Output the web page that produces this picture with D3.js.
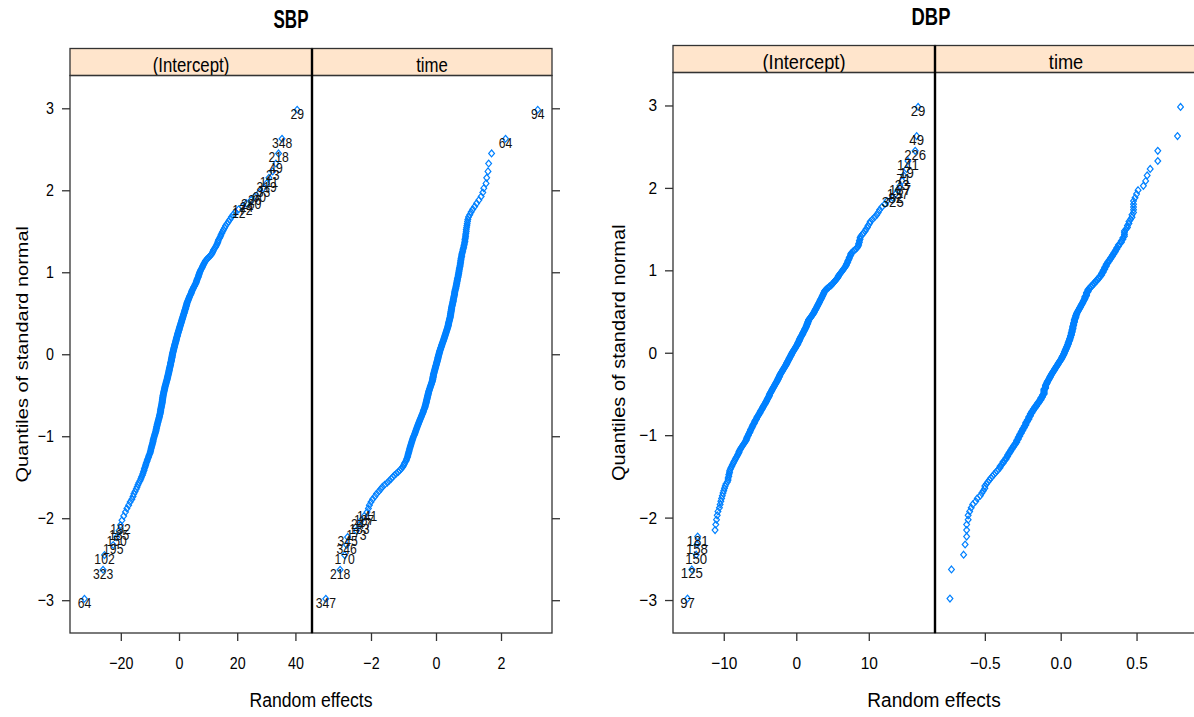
<!DOCTYPE html>
<html>
<head>
<meta charset="utf-8">
<script src="https://cdn.jsdelivr.net/npm/d3@7"></script>
<style>
  body { margin: 0; background: #fff; }
  svg { display: block; }
  text { font-family: "Liberation Sans", Arial, Helvetica, sans-serif; }
</style>
</head>
<body>
<svg id="chart" width="1194" height="717"></svg>
<script>
// Estimated random effects (sorted), one array per model term.
const sbpIntercept = [
-32.5,-26.1,-25.6,-22.6,-21.4,-20.6,-20.1,-19.6,-19.0,-18.4,
-17.9,-17.3,-16.8,-16.2,-15.8,-15.5,-15.1,-14.7,-14.4,-14.1,
-13.8,-13.4,-13.1,-12.9,-12.6,-12.4,-12.2,-12.0,-11.9,-11.7,
-11.5,-11.4,-11.2,-11.0,-10.9,-10.7,-10.5,-10.4,-10.2,-10.0,
-9.9,-9.8,-9.7,-9.6,-9.5,-9.4,-9.3,-9.2,-9.1,-9.0,
-8.9,-8.9,-8.8,-8.7,-8.6,-8.5,-8.4,-8.3,-8.2,-8.1,
-8.0,-7.9,-7.9,-7.8,-7.7,-7.7,-7.6,-7.5,-7.5,-7.4,
-7.3,-7.2,-7.2,-7.1,-7.0,-6.9,-6.9,-6.8,-6.7,-6.7,
-6.6,-6.5,-6.5,-6.4,-6.4,-6.3,-6.3,-6.3,-6.2,-6.2,
-6.1,-6.1,-6.0,-6.0,-5.9,-5.9,-5.8,-5.8,-5.8,-5.7,
-5.7,-5.7,-5.6,-5.6,-5.6,-5.5,-5.5,-5.5,-5.4,-5.4,
-5.3,-5.3,-5.2,-5.2,-5.1,-5.1,-5.0,-5.0,-4.9,-4.9,
-4.8,-4.8,-4.7,-4.7,-4.6,-4.5,-4.5,-4.4,-4.4,-4.3,
-4.2,-4.2,-4.1,-4.1,-4.0,-4.0,-3.9,-3.9,-3.8,-3.8,
-3.7,-3.7,-3.6,-3.6,-3.5,-3.5,-3.4,-3.4,-3.4,-3.3,
-3.3,-3.2,-3.2,-3.1,-3.1,-3.0,-3.0,-2.9,-2.9,-2.9,
-2.8,-2.8,-2.7,-2.7,-2.6,-2.6,-2.6,-2.5,-2.5,-2.4,
-2.4,-2.4,-2.3,-2.3,-2.3,-2.2,-2.2,-2.1,-2.1,-2.0,
-2.0,-1.9,-1.9,-1.8,-1.8,-1.7,-1.7,-1.6,-1.6,-1.5,
-1.5,-1.4,-1.4,-1.3,-1.2,-1.2,-1.1,-1.1,-1.0,-1.0,
-0.9,-0.9,-0.8,-0.8,-0.7,-0.6,-0.6,-0.5,-0.5,-0.4,
-0.4,-0.3,-0.2,-0.2,-0.1,0.0,0.0,0.1,0.1,0.2,
0.3,0.3,0.4,0.5,0.5,0.6,0.7,0.7,0.8,0.9,
0.9,1.0,1.1,1.1,1.2,1.3,1.3,1.4,1.5,1.5,
1.6,1.7,1.8,1.8,1.9,2.0,2.0,2.1,2.2,2.3,
2.3,2.4,2.5,2.5,2.6,2.7,2.7,2.8,2.9,3.0,
3.1,3.2,3.3,3.4,3.5,3.6,3.7,3.8,4.0,4.1,
4.2,4.3,4.4,4.5,4.6,4.8,4.9,5.0,5.2,5.4,
5.5,5.6,5.8,5.9,6.0,6.1,6.2,6.3,6.5,6.6,
6.7,6.8,6.9,7.0,7.1,7.3,7.4,7.6,7.8,8.0,
8.1,8.3,8.5,8.7,8.9,9.1,9.4,9.8,10.2,10.6,
11.0,11.3,11.5,11.7,11.9,12.2,12.5,12.8,13.0,13.3,
13.4,13.6,13.9,14.2,14.4,14.7,15.0,15.3,15.7,16.0,
16.5,17.0,17.5,18.0,18.6,19.4,
20.5,21.8,23.2,24.8,26.0,27.6,29.0,30.1,30.9,32.2,33.3,34.2,35.4,40.6
];

const sbpTime = [
-3.39,-2.95,-2.81,-2.75,-2.72,-2.45,-2.36,-2.30,-2.21,-2.12,
-2.08,-2.05,-2.00,-1.95,-1.88,-1.83,-1.76,-1.70,-1.65,-1.58,
-1.50,-1.44,-1.38,-1.33,-1.28,-1.22,-1.16,-1.11,-1.07,-1.03,
-1.00,-0.98,-0.96,-0.93,-0.91,-0.90,-0.88,-0.87,-0.86,-0.85,
-0.84,-0.83,-0.82,-0.81,-0.80,-0.79,-0.78,-0.77,-0.76,-0.75,
-0.74,-0.73,-0.72,-0.71,-0.70,-0.69,-0.67,-0.66,-0.65,-0.64,
-0.63,-0.62,-0.61,-0.60,-0.59,-0.58,-0.57,-0.56,-0.55,-0.54,
-0.53,-0.52,-0.51,-0.50,-0.49,-0.48,-0.47,-0.46,-0.45,-0.44,
-0.43,-0.42,-0.41,-0.40,-0.39,-0.39,-0.38,-0.37,-0.36,-0.35,
-0.34,-0.34,-0.33,-0.33,-0.32,-0.31,-0.31,-0.30,-0.30,-0.29,
-0.29,-0.28,-0.28,-0.27,-0.27,-0.26,-0.26,-0.25,-0.25,-0.24,
-0.24,-0.23,-0.23,-0.22,-0.22,-0.21,-0.20,-0.20,-0.19,-0.18,
-0.18,-0.17,-0.16,-0.16,-0.15,-0.14,-0.14,-0.13,-0.12,-0.12,
-0.11,-0.11,-0.10,-0.10,-0.10,-0.09,-0.09,-0.09,-0.08,-0.08,
-0.08,-0.07,-0.07,-0.06,-0.06,-0.05,-0.05,-0.04,-0.04,-0.03,
-0.03,-0.02,-0.02,-0.01,-0.01,0.00,0.00,0.01,0.01,0.02,
0.02,0.03,0.03,0.04,0.04,0.05,0.05,0.06,0.06,0.06,
0.07,0.07,0.08,0.08,0.09,0.09,0.10,0.10,0.11,0.11,
0.12,0.12,0.13,0.14,0.14,0.15,0.15,0.16,0.17,0.17,
0.18,0.18,0.19,0.20,0.20,0.21,0.22,0.22,0.23,0.24,
0.24,0.25,0.25,0.26,0.27,0.27,0.28,0.28,0.29,0.30,
0.30,0.31,0.31,0.32,0.33,0.33,0.34,0.34,0.35,0.36,
0.36,0.37,0.37,0.38,0.38,0.38,0.39,0.39,0.40,0.40,
0.41,0.41,0.42,0.42,0.43,0.43,0.44,0.44,0.44,0.45,
0.45,0.45,0.46,0.46,0.46,0.47,0.47,0.47,0.48,0.48,
0.48,0.49,0.49,0.50,0.50,0.51,0.51,0.52,0.52,0.53,
0.53,0.53,0.54,0.54,0.55,0.55,0.56,0.56,0.57,0.57,
0.57,0.58,0.58,0.59,0.59,0.60,0.61,0.61,0.62,0.62,
0.63,0.63,0.64,0.64,0.65,0.65,0.66,0.66,0.67,0.68,
0.68,0.69,0.69,0.70,0.70,0.71,0.71,0.72,0.72,0.73,
0.74,0.74,0.75,0.75,0.76,0.76,0.77,0.77,0.78,0.79,
0.79,0.80,0.81,0.82,0.83,0.84,0.85,0.86,0.87,0.88,
0.89,0.89,0.90,0.91,0.91,0.92,0.93,0.93,0.94,0.95,
0.96,0.97,0.98,1.00,1.04,1.08,1.13,1.19,1.25,1.32,
1.39,1.44,1.47,1.54,1.56,1.60,1.62,1.71,2.14,3.13
];

const dbpIntercept = [
-15.0,-14.4,-13.8,-13.7,-13.6,-11.2,-11.1,-11.0,-10.9,-10.8,
-10.6,-10.5,-10.4,-10.3,-10.2,-10.1,-10.0,-9.9,-9.8,-9.7,
-9.5,-9.4,-9.4,-9.3,-9.3,-9.2,-9.2,-9.1,-9.0,-8.9,
-8.8,-8.7,-8.6,-8.5,-8.4,-8.3,-8.2,-8.1,-8.0,-7.9,
-7.9,-7.8,-7.7,-7.6,-7.5,-7.4,-7.3,-7.2,-7.1,-7.0,
-6.9,-6.9,-6.8,-6.8,-6.7,-6.6,-6.6,-6.5,-6.4,-6.4,
-6.3,-6.3,-6.2,-6.1,-6.1,-6.0,-6.0,-5.9,-5.8,-5.8,
-5.7,-5.7,-5.6,-5.5,-5.5,-5.4,-5.4,-5.3,-5.2,-5.2,
-5.1,-5.0,-5.0,-4.9,-4.9,-4.8,-4.7,-4.7,-4.6,-4.6,
-4.5,-4.5,-4.4,-4.3,-4.3,-4.2,-4.2,-4.1,-4.1,-4.0,
-4.0,-3.9,-3.9,-3.8,-3.8,-3.7,-3.7,-3.7,-3.6,-3.6,
-3.5,-3.5,-3.4,-3.4,-3.3,-3.3,-3.2,-3.2,-3.1,-3.1,
-3.0,-3.0,-2.9,-2.9,-2.8,-2.8,-2.7,-2.7,-2.6,-2.6,
-2.5,-2.5,-2.5,-2.4,-2.4,-2.3,-2.3,-2.3,-2.2,-2.2,
-2.1,-2.1,-2.0,-2.0,-1.9,-1.9,-1.8,-1.8,-1.7,-1.7,
-1.6,-1.6,-1.5,-1.5,-1.4,-1.4,-1.3,-1.3,-1.3,-1.2,
-1.2,-1.1,-1.1,-1.0,-1.0,-1.0,-0.9,-0.9,-0.8,-0.8,
-0.7,-0.7,-0.7,-0.6,-0.6,-0.5,-0.5,-0.4,-0.4,-0.3,
-0.3,-0.2,-0.2,-0.1,-0.1,0.0,0.0,0.1,0.1,0.2,
0.2,0.2,0.3,0.3,0.4,0.4,0.4,0.5,0.5,0.5,
0.6,0.6,0.7,0.7,0.8,0.8,0.9,0.9,0.9,1.0,
1.0,1.1,1.1,1.2,1.2,1.2,1.3,1.3,1.4,1.4,
1.4,1.5,1.5,1.5,1.6,1.6,1.6,1.7,1.7,1.7,
1.8,1.9,1.9,2.0,2.1,2.1,2.2,2.3,2.3,2.4,
2.4,2.5,2.5,2.6,2.6,2.7,2.7,2.8,2.8,2.9,
2.9,3.0,3.0,3.1,3.1,3.2,3.2,3.3,3.3,3.4,
3.4,3.5,3.5,3.6,3.6,3.7,3.7,3.8,3.8,3.9,
3.9,4.0,4.1,4.2,4.4,4.5,4.6,4.8,4.9,5.0,
5.1,5.2,5.3,5.4,5.5,5.6,5.7,5.8,5.8,5.9,
6.0,6.1,6.2,6.3,6.4,6.5,6.6,6.7,6.8,6.9,
6.9,7.0,7.1,7.1,7.2,7.3,7.3,7.4,7.5,7.5,
7.6,7.8,8.0,8.2,8.4,8.5,8.6,8.6,8.7,8.7,
8.8,8.8,8.9,9.1,9.3,9.5,9.6,9.8,9.9,10.1,
10.2,10.5,10.8,11.1,11.3,11.5,11.8,12.2,12.5,13.3,
13.7,14.0,14.3,14.6,14.8,15.2,15.4,16.4,16.6,16.8
];

const dbpTime = [
-0.73,-0.72,-0.64,-0.63,-0.62,-0.62,-0.62,-0.61,-0.61,-0.60,
-0.59,-0.58,-0.56,-0.55,-0.53,-0.52,-0.51,-0.50,-0.50,-0.49,
-0.48,-0.47,-0.46,-0.45,-0.44,-0.43,-0.42,-0.41,-0.40,-0.40,
-0.39,-0.38,-0.38,-0.37,-0.36,-0.36,-0.35,-0.35,-0.34,-0.34,
-0.33,-0.33,-0.32,-0.32,-0.31,-0.31,-0.30,-0.30,-0.29,-0.29,
-0.29,-0.28,-0.28,-0.28,-0.27,-0.27,-0.27,-0.26,-0.26,-0.26,
-0.25,-0.25,-0.25,-0.24,-0.24,-0.24,-0.23,-0.23,-0.23,-0.23,
-0.22,-0.22,-0.22,-0.21,-0.21,-0.21,-0.21,-0.20,-0.20,-0.20,
-0.20,-0.19,-0.19,-0.19,-0.18,-0.18,-0.18,-0.17,-0.17,-0.17,
-0.16,-0.16,-0.16,-0.15,-0.15,-0.15,-0.14,-0.14,-0.14,-0.13,
-0.13,-0.13,-0.13,-0.12,-0.12,-0.12,-0.12,-0.11,-0.11,-0.11,
-0.11,-0.11,-0.11,-0.11,-0.11,-0.11,-0.10,-0.10,-0.10,-0.10,
-0.10,-0.10,-0.095,-0.095,-0.09,-0.09,-0.09,-0.085,-0.085,-0.08,
-0.08,-0.075,-0.075,-0.07,-0.07,-0.07,-0.065,-0.065,-0.06,-0.06,
-0.055,-0.055,-0.05,-0.05,-0.045,-0.045,-0.04,-0.04,-0.035,-0.035,
-0.03,-0.03,-0.025,-0.025,-0.02,-0.02,-0.015,-0.015,-0.01,-0.01,
-0.005,-0.005,0.00,0.00,0.005,0.005,0.01,0.01,0.01,0.015,
0.015,0.02,0.02,0.02,0.025,0.025,0.025,0.03,0.03,0.03,
0.035,0.035,0.035,0.04,0.04,0.04,0.045,0.045,0.045,0.05,
0.05,0.05,0.05,0.055,0.055,0.055,0.06,0.06,0.06,0.06,
0.065,0.065,0.065,0.065,0.07,0.07,0.07,0.07,0.07,0.075,
0.075,0.075,0.075,0.075,0.08,0.08,0.08,0.08,0.08,0.08,
0.085,0.085,0.085,0.085,0.085,0.09,0.09,0.09,0.09,0.09,
0.095,0.095,0.095,0.10,0.10,0.10,0.10,0.105,0.105,0.105,
0.11,0.11,0.115,0.115,0.12,0.12,0.125,0.125,0.13,0.13,
0.135,0.135,0.14,0.14,0.145,0.145,0.15,0.15,0.155,0.155,
0.16,0.16,0.16,0.16,0.17,0.17,0.17,0.17,0.17,0.18,
0.18,0.18,0.18,0.19,0.19,0.20,0.20,0.21,0.21,0.22,
0.22,0.23,0.23,0.24,0.24,0.25,0.25,0.26,0.26,0.27,
0.27,0.27,0.28,0.28,0.28,0.29,0.29,0.29,0.30,0.30,
0.30,0.31,0.31,0.32,0.32,0.33,0.33,0.34,0.34,0.35,
0.35,0.36,0.36,0.37,0.37,0.38,0.38,0.39,0.40,0.40,
0.41,0.41,0.42,0.42,0.42,0.42,0.43,0.44,0.44,0.45,
0.45,0.46,0.47,0.47,0.48,0.48,0.48,0.48,0.48,0.49,
0.50,0.51,0.545,0.56,0.57,0.59,0.64,0.64,0.77,0.79
];

// Subject ids written next to the extreme points (from the outermost inward).
const sbpInterceptLowIds  = ["64","323","102","195","150","185","192"];
const sbpInterceptHighIds = ["29","348","218","49","23","111","319","33","60","26","280","24","172","12"];
const sbpTimeLowIds  = ["347","218","170","346","345","173","183","247","187","141"];
const sbpTimeHighIds = ["94","64"];
const dbpInterceptLowIds  = ["97","125","150","158","181"];
const dbpInterceptHighIds = ["29","49","226","141","19","71","23","187","137","82","325"];
const dbpTimeLowIds  = [];
const dbpTimeHighIds = [];

// Axis ticks
const quantileTicks = [-3, -2, -1, 0, 1, 2, 3];
const sbpInterceptTicks = [-20, 0, 20, 40];
const sbpTimeTicks = [-2, 0, 2];
const dbpInterceptTicks = [-10, 0, 10];
const dbpTimeTicks = [-0.5, 0.0, 0.5];

// Inverse standard normal CDF (Acklam's rational approximation)
function qnorm(p) {
  const a = [-3.969683028665376e+01, 2.209460984245205e+02, -2.759285104469687e+02, 1.383577518672690e+02, -3.066479806614716e+01, 2.506628277459239e+00];
  const b = [-5.447609879822406e+01, 1.615858368580409e+02, -1.556989798598866e+02, 6.680131188771972e+01, -1.328068155288572e+01];
  const c = [-7.784894002430293e-03, -3.223964580411365e-01, -2.400758277161838e+00, -2.549732539343734e+00, 4.374664141464968e+00, 2.938163982698783e+00];
  const d = [7.784695709041462e-03, 3.224671290700398e-01, 2.445134137142996e+00, 3.754408661907416e+00];
  const pl = 0.02425, ph = 1 - pl;
  if (p < pl) {
    const q = Math.sqrt(-2 * Math.log(p));
    return (((((c[0]*q+c[1])*q+c[2])*q+c[3])*q+c[4])*q+c[5]) / ((((d[0]*q+d[1])*q+d[2])*q+d[3])*q+1);
  }
  if (p > ph) {
    const q = Math.sqrt(-2 * Math.log(1 - p));
    return -(((((c[0]*q+c[1])*q+c[2])*q+c[3])*q+c[4])*q+c[5]) / ((((d[0]*q+d[1])*q+d[2])*q+d[3])*q+1);
  }
  const q = p - 0.5, r = q * q;
  return (((((a[0]*r+a[1])*r+a[2])*r+a[3])*r+a[4])*r+a[5])*q / (((((b[0]*r+b[1])*r+b[2])*r+b[3])*r+b[4])*r+1);
}

// Layout of the two trellis figures
const figures = [
  {
    title: "SBP", titleX: 291, titleY: 28, titleSize: 25, titleSx: 0.68, sx: 0.84,
    stripTop: 48.5, top: 75.5, bottom: 633, left: 70, right: 552,
    yLabelX: 28, xLabelX: 311,
    panels: [
      { name: "(Intercept)", values: sbpIntercept, x0: 70,  x1: 312, domain: [-37.46, 45.70], ticks: sbpInterceptTicks, fmt: d3.format("d"), low: sbpInterceptLowIds, high: sbpInterceptHighIds },
      { name: "time",        values: sbpTime,      x0: 312, x1: 552, domain: [-3.815, 3.569], ticks: sbpTimeTicks,      fmt: d3.format("d"), low: sbpTimeLowIds,      high: sbpTimeHighIds }
    ]
  },
  {
    title: "DBP", titleX: 931, titleY: 25, titleSize: 23, titleSx: 0.8, sx: 0.91,
    stripTop: 45.5, top: 72.5, bottom: 633, left: 673, right: 1197,
    yLabelX: 625, xLabelX: 934,
    panels: [
      { name: "(Intercept)", values: dbpIntercept, x0: 673, x1: 935,  domain: [-17.0, 19.13],   ticks: dbpInterceptTicks, fmt: d3.format(".0f"), low: dbpInterceptLowIds, high: dbpInterceptHighIds },
      { name: "time",        values: dbpTime,      x0: 935, x1: 1197, domain: [-0.8286, 0.8985], ticks: dbpTimeTicks,      fmt: d3.format(".1f"), low: dbpTimeLowIds,      high: dbpTimeHighIds }
    ]
  }
];

const svg = d3.select("#chart");
const pointColor = "#0080ff";
const diamond = "M0,-3.4L2.9,0L0,3.4L-2.9,0Z";

function addText(g, x, y, str, sx, size, opts = {}) {
  return g.append("text")
    .attr("transform", `translate(${x},${y}) scale(${sx},1)` + (opts.rotate ? ` rotate(${opts.rotate})` : ""))
    .attr("text-anchor", opts.anchor || "middle")
    .attr("font-size", size)
    .attr("font-weight", opts.weight || "normal")
    .attr("fill", opts.fill || "#000")
    .text(str);
}

figures.forEach((f, fi) => {
  const g = svg.append("g");
  const y = d3.scaleLinear().domain([-3.4, 3.4]).range([f.bottom, f.top]);

  addText(g, f.titleX, f.titleY, f.title, f.titleSx, f.titleSize, { weight: "bold" });

  f.panels.forEach((p, k) => {
    const x = d3.scaleLinear().domain(p.domain).range([p.x0, p.x1]);
    const w = p.x1 - p.x0;

    // strip with the term name
    g.append("rect")
      .attr("x", p.x0).attr("y", f.stripTop)
      .attr("width", w).attr("height", f.top - f.stripTop)
      .attr("fill", "#ffe5cc").attr("stroke", "#333").attr("stroke-width", 1.3);
    addText(g, (p.x0 + p.x1) / 2, f.top - 4, p.name, f.sx, 20);

    // panel frame
    g.append("rect")
      .attr("x", p.x0).attr("y", f.top)
      .attr("width", w).attr("height", f.bottom - f.top)
      .attr("fill", "none").attr("stroke", "#333").attr("stroke-width", 1.3);

    // normal quantile points
    const clipId = `clip-${fi}-${k}`;
    g.append("clipPath").attr("id", clipId)
      .append("rect").attr("x", p.x0).attr("y", f.top).attr("width", w).attr("height", f.bottom - f.top);
    const n = p.values.length;
    const pts = p.values.slice().sort(d3.ascending)
      .map((v, i) => ({ v, q: qnorm((i + 0.5) / n), i }));
    const pg = g.append("g").attr("clip-path", `url(#${clipId})`);
    pg.selectAll("path").data(pts).join("path")
      .attr("d", diamond)
      .attr("transform", d => `translate(${x(d.v)},${y(d.q)})`)
      .attr("fill", "none").attr("stroke", pointColor).attr("stroke-width", 1.2);

    // ids of the outlying subjects
    const labelled = [];
    p.low.forEach((id, j) => labelled.push({ id, d: pts[j] }));
    p.high.forEach((id, j) => labelled.push({ id, d: pts[n - 1 - j] }));
    labelled.forEach(l => addText(pg, x(l.d.v), y(l.d.q) + 9, l.id, f.sx, 14.5, { fill: "#111" }));

    // x axis
    const xa = g.append("g")
      .attr("transform", `translate(0,${f.bottom})`)
      .call(d3.axisBottom(x).tickValues(p.ticks).tickFormat(p.fmt).tickSize(8).tickPadding(16));
    xa.select(".domain").remove();
    xa.selectAll("line").attr("stroke", "#333").attr("stroke-width", 1.3);
    xa.selectAll("text").attr("font-size", 17).attr("fill", "#000")
      .attr("font-family", '"Liberation Sans", Arial, sans-serif')
      .attr("transform", `scale(${f.sx},1)`);
  });

  // y axis ticks on both outer sides
  const pad = 16 / f.sx - 8;
  const ya = g.append("g")
    .attr("transform", `translate(${f.left},0)`)
    .call(d3.axisLeft(y).tickValues(quantileTicks).tickFormat(d3.format("d")).tickSize(8).tickPadding(pad));
  ya.select(".domain").remove();
  ya.selectAll("line").attr("stroke", "#333").attr("stroke-width", 1.3);
  ya.selectAll("text").attr("font-size", 17).attr("fill", "#000")
    .attr("font-family", '"Liberation Sans", Arial, sans-serif')
    .attr("transform", `scale(${f.sx},1)`);
  const yr = g.append("g")
    .attr("transform", `translate(${f.right},0)`)
    .call(d3.axisRight(y).tickValues(quantileTicks).tickSize(8).tickFormat(""));
  yr.select(".domain").remove();
  yr.selectAll("line").attr("stroke", "#333").attr("stroke-width", 1.3);

  // divider between the two panels
  g.append("line")
    .attr("x1", f.panels[1].x0).attr("x2", f.panels[1].x0)
    .attr("y1", f.stripTop).attr("y2", f.bottom)
    .attr("stroke", "#000").attr("stroke-width", 2.4);

  // axis titles
  addText(g, f.xLabelX, 707, "Random effects", f.sx, 21);
  addText(g, f.yLabelX, (f.top + f.bottom) / 2, "Quantiles of standard normal", f.sx, 20, { rotate: -90 });
});
</script>
</body>
</html>
